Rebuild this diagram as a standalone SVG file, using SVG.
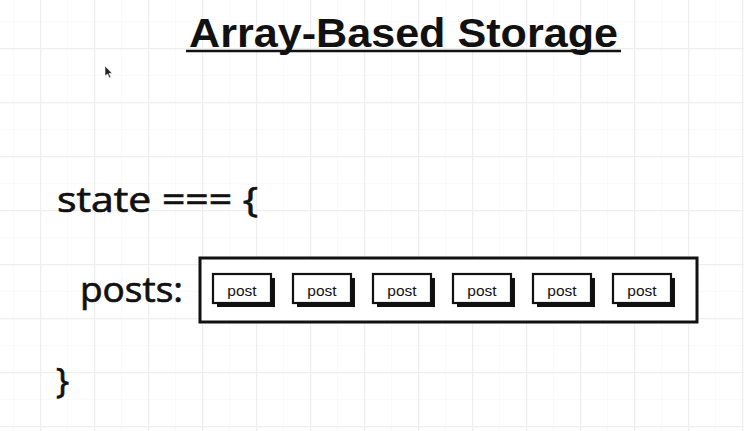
<svg xmlns="http://www.w3.org/2000/svg" width="744" height="431" viewBox="0 0 744 431">
  <defs>
    <pattern id="minor" x="13" y="21" width="27" height="27" patternUnits="userSpaceOnUse">
      <path d="M0 0 V27 M0 0 H27" fill="none" stroke="#f6f6f6" stroke-width="1"/>
    </pattern>
    <pattern id="major" x="40" y="48" width="54" height="54" patternUnits="userSpaceOnUse">
      <path d="M0.5 0 V54 M0 0.5 H54" fill="none" stroke="#eeeeee" stroke-width="1.5"/>
    </pattern>
  </defs>
  <style>
    .title { font-family: "Liberation Sans", Arial, sans-serif; font-weight: bold; font-size: 40px; fill: #111; }
    .code { font-family: "Open Sans", "Liberation Sans", sans-serif; font-size: 35px; fill: #111; stroke: #111; stroke-width: 0.7; }
    .lbl { font-family: "Liberation Sans", Arial, sans-serif; font-size: 15.5px; fill: #111; }
    .shadow { fill: #111; }
    .box { fill: #fff; stroke: #111; stroke-width: 2.2; }
  </style>
  <rect width="744" height="431" fill="#fff"/>
  <rect width="744" height="431" fill="url(#minor)"/>
  <rect width="744" height="431" fill="url(#major)"/>

  <g id="title">
    <text class="title" x="189" y="47" textLength="429" lengthAdjust="spacingAndGlyphs">Array-Based Storage</text>
    <line x1="186" y1="51" x2="621" y2="51" stroke="#111" stroke-width="2.5"/>
  </g>

  <g id="state-open">
    <text class="code" x="57" y="212" textLength="201" lengthAdjust="spacingAndGlyphs">state === {</text>
  </g>
  <g id="posts-label">
    <text class="code" x="80" y="302" textLength="103" lengthAdjust="spacingAndGlyphs">posts:</text>
  </g>
  <g id="state-close">
    <text class="code" x="56" y="393">}</text>
  </g>

  <g id="posts-array">
    <rect x="200" y="258" width="497" height="64" fill="#fff" stroke="#111" stroke-width="3"/>
  </g>

  <g id="post-1">
    <rect class="shadow" x="217" y="278" width="58" height="29"/>
    <rect class="box" x="213" y="274" width="58" height="29"/>
    <text class="lbl" x="242" y="296" text-anchor="middle">post</text>
  </g>
  <g id="post-2">
    <rect class="shadow" x="297" y="278" width="58" height="29"/>
    <rect class="box" x="293" y="274" width="58" height="29"/>
    <text class="lbl" x="322" y="296" text-anchor="middle">post</text>
  </g>
  <g id="post-3">
    <rect class="shadow" x="377" y="278" width="58" height="29"/>
    <rect class="box" x="373" y="274" width="58" height="29"/>
    <text class="lbl" x="402" y="296" text-anchor="middle">post</text>
  </g>
  <g id="post-4">
    <rect class="shadow" x="457" y="278" width="58" height="29"/>
    <rect class="box" x="453" y="274" width="58" height="29"/>
    <text class="lbl" x="482" y="296" text-anchor="middle">post</text>
  </g>
  <g id="post-5">
    <rect class="shadow" x="537" y="278" width="58" height="29"/>
    <rect class="box" x="533" y="274" width="58" height="29"/>
    <text class="lbl" x="562" y="296" text-anchor="middle">post</text>
  </g>
  <g id="post-6">
    <rect class="shadow" x="617" y="278" width="58" height="29"/>
    <rect class="box" x="613" y="274" width="58" height="29"/>
    <text class="lbl" x="642" y="296" text-anchor="middle">post</text>
  </g>

  <g id="connectors"></g>

  <g id="cursor">
    <path d="M105 66 L105 76 L107.5 74 L109.5 78 L111 77.3 L109 73.5 L112 73.3 Z" fill="#222" stroke="#fff" stroke-width="0.6"/>
  </g>
</svg>
